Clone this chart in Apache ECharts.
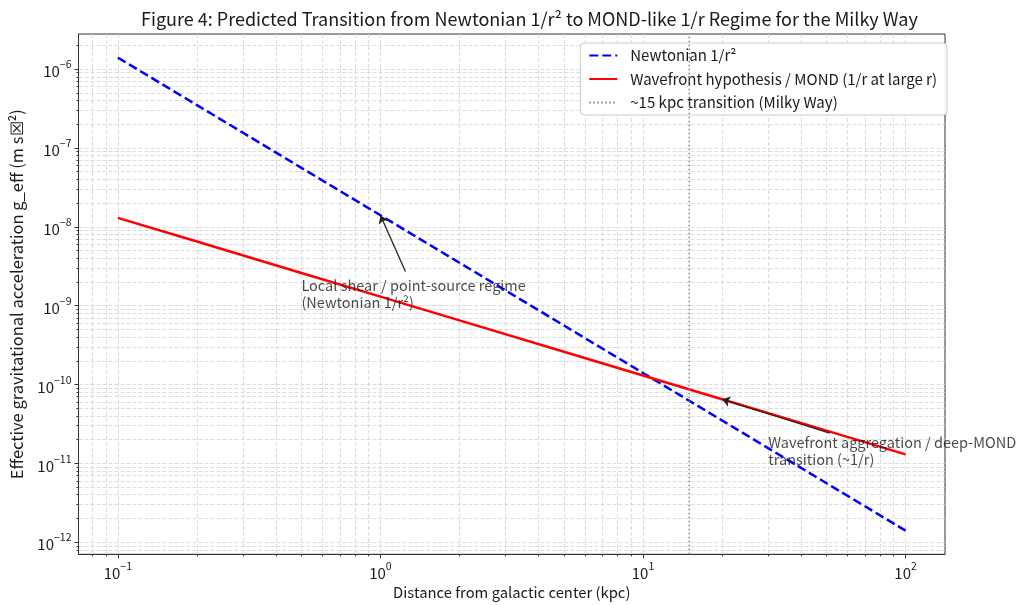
<!DOCTYPE html>
<html>
<head>
<meta charset="utf-8">
<script src="https://cdn.jsdelivr.net/npm/echarts@6/dist/echarts.min.js"></script>
<style>html,body{margin:0;padding:0;background:#fff}#c{width:1021px;height:605px}</style>
</head>
<body>
<div id="c"></div>
<script>
// ---- data ----
const distanceKpc = [0.1, 0.2, 0.5, 1, 2, 5, 10, 20, 50, 100];
const newtonian = [1.4e-6, 3.5e-7, 5.6e-8, 1.4e-8, 3.5e-9, 5.6e-10, 1.4e-10, 3.5e-11, 5.6e-12, 1.4e-12];
const mond = [1.3e-8, 6.5e-9, 2.6e-9, 1.3e-9, 6.5e-10, 2.6e-10, 1.3e-10, 6.5e-11, 2.6e-11, 1.3e-11];
const transitionKpc = 15;
const xMajorTicks = [0.1, 1, 10, 100];
const yMajorTicks = [1e-12, 1e-11, 1e-10, 1e-9, 1e-8, 1e-7, 1e-6];
const seriesNames = ['Newtonian 1/r²', 'Wavefront hypothesis / MOND (1/r at large r)', '~15 kpc transition (Milky Way)'];
const annotationTexts = ['Local shear / point-source regime\n(Newtonian 1/r²)', 'Wavefront aggregation / deep-MOND\ntransition (~1/r)'];
const annotationTextAt = [[0.5, 1e-9], [30, 1e-11]];
const annotationArrowFrom = [[1.245, 2.71e-9], [51.4, 2.41e-11]];
const annotationArrowTo = [[1, 1.4e-8], [20, 6.5e-11]];
const xRange = [0.0708, 141.3];
const yRange = [7.02e-13, 2.79e-6];

function minorTicks(lo, hi) {
  const out = [];
  for (let e = lo; e <= hi; e++) {
    for (let m = 1; m <= 9; m++) out.push(m * Math.pow(10, e));
  }
  return out;
}
const xAllTicks = minorTicks(-2, 2).filter(v => v >= xRange[0] && v <= xRange[1]);
const yAllTicks = minorTicks(-13, -6).filter(v => v >= yRange[0] && v <= yRange[1]);

const FONT = 'Noto Sans CJK JP';
const INK = '#1a1a1a';
function pow10Label(v) {
  const e = Math.round(Math.log10(v));
  const s = e < 0 ? '\u2212' + (-e) : String(e);
  return '{b|10}{s|' + s + '}';
}
const rich = {
  b: { fontFamily: FONT, fontSize: 15, color: INK, verticalAlign: 'bottom', lineHeight: 20 },
  s: { fontFamily: FONT, fontSize: 10.5, color: INK, verticalAlign: 'top', lineHeight: 11 }
};

const gridLine = { show: true, lineStyle: { color: '#d4d4d4', type: [4, 2], width: 0.8 } };

const chart = echarts.init(document.getElementById('c'), null, { renderer: 'canvas' });
const option = {
  backgroundColor: '#fff',
  animation: false,
  textStyle: { fontFamily: FONT },
  title: {
    text: 'Figure 4: Predicted Transition from Newtonian 1/r² to MOND-like 1/r Regime for the Milky Way',
    left: 136, top: 5,
    textStyle: { fontFamily: FONT, fontSize: 18, fontWeight: 'normal', color: INK }
  },
  grid: { left: 78, right: 76, top: 34, bottom: 48, show: true, borderColor: '#333', borderWidth: 1, backgroundColor: 'transparent' },
  legend: {
    orient: 'vertical', right: 74, top: 43,
    data: seriesNames,
    backgroundColor: 'rgba(255,255,255,0.93)', borderColor: '#ccc', borderWidth: 1, borderRadius: 4,
    padding: [5, 10, 5, 8], itemGap: 8.5, itemWidth: 28, itemHeight: 16,
    itemStyle: { opacity: 0 },
    textStyle: { fontFamily: FONT, fontSize: 15, color: INK, padding: [0, 0, 0, 8] }
  },
  xAxis: [{
    type: 'log', logBase: 10, min: xRange[0], max: xRange[1],
    name: 'Distance from galactic center (kpc)', nameLocation: 'middle', nameGap: 28,
    nameTextStyle: { fontFamily: FONT, fontSize: 14.8, color: INK },
    axisLine: { show: true, lineStyle: { color: '#333', width: 1 } },
    axisTick: { show: true, inside: false, length: 4, customValues: xMajorTicks, lineStyle: { color: '#333' } },
    axisLabel: { customValues: xMajorTicks, formatter: pow10Label, rich: rich, margin: 6 },
    splitLine: { show: false }
  }, {
    type: 'log', logBase: 10, min: xRange[0], max: xRange[1], position: 'bottom',
    axisLine: { show: false },
    axisTick: { show: true, length: 2, customValues: xAllTicks, lineStyle: { color: '#333' } },
    axisLabel: { show: false },
    splitLine: gridLine
  }],
  yAxis: [{
    type: 'log', logBase: 10, min: yRange[0], max: yRange[1],
    name: 'Effective gravitational acceleration g_eff (m s\u2612²)', nameLocation: 'middle', nameGap: 54,
    nameTextStyle: { fontFamily: FONT, fontSize: 16.5, color: INK },
    axisLine: { show: true, lineStyle: { color: '#333', width: 1 } },
    axisTick: { show: true, length: 4, customValues: yMajorTicks, lineStyle: { color: '#333' } },
    axisLabel: { customValues: yMajorTicks, formatter: pow10Label, rich: rich, margin: 7 },
    splitLine: { show: false }
  }, {
    type: 'log', logBase: 10, min: yRange[0], max: yRange[1], position: 'left',
    axisLine: { show: false },
    axisTick: { show: true, length: 2, customValues: yAllTicks, lineStyle: { color: '#333' } },
    axisLabel: { show: false },
    splitLine: gridLine
  }],
  series: [
    {
      name: seriesNames[0], type: 'line', showSymbol: false, symbol: 'none', z: 3,
      data: distanceKpc.map((x, i) => [x, newtonian[i]]),
      lineStyle: { color: '#0000ff', width: 2.5, type: [9, 4] }, itemStyle: { color: '#0000ff' }
    },
    {
      name: seriesNames[1], type: 'line', showSymbol: false, symbol: 'none', z: 4,
      data: distanceKpc.map((x, i) => [x, mond[i]]),
      lineStyle: { color: '#ff0000', width: 2.5 }, itemStyle: { color: '#ff0000' }
    },
    {
      name: seriesNames[2], type: 'line', showSymbol: false, symbol: 'none', z: 5,
      data: [[transitionKpc, yRange[0]], [transitionKpc, yRange[1]]],
      lineStyle: { color: '#808080', width: 1.5, type: [1.5, 2.5] }, itemStyle: { color: '#808080' }
    },
    {
      type: 'lines', coordinateSystem: 'cartesian2d', z: 6, silent: true,
      symbol: ['none', 'arrow'], symbolSize: 8,
      lineStyle: { color: '#222', width: 1.3, opacity: 1 },
      data: annotationArrowFrom.map((p, i) => ({ coords: [p, annotationArrowTo[i]] }))
    },
    {
      type: 'scatter', symbolSize: 0, z: 7, silent: true,
      data: annotationTextAt.map((p, i) => ({ value: p, label: { formatter: annotationTexts[i] } })),
      label: {
        show: true, position: [0, 0], align: 'left', verticalAlign: 'bottom', offset: [0, 5],
        fontFamily: FONT, fontSize: 14.5, color: INK, lineHeight: 17
      }
    }
  ]
};
chart.setOption(option);
</script>
</body>
</html>
